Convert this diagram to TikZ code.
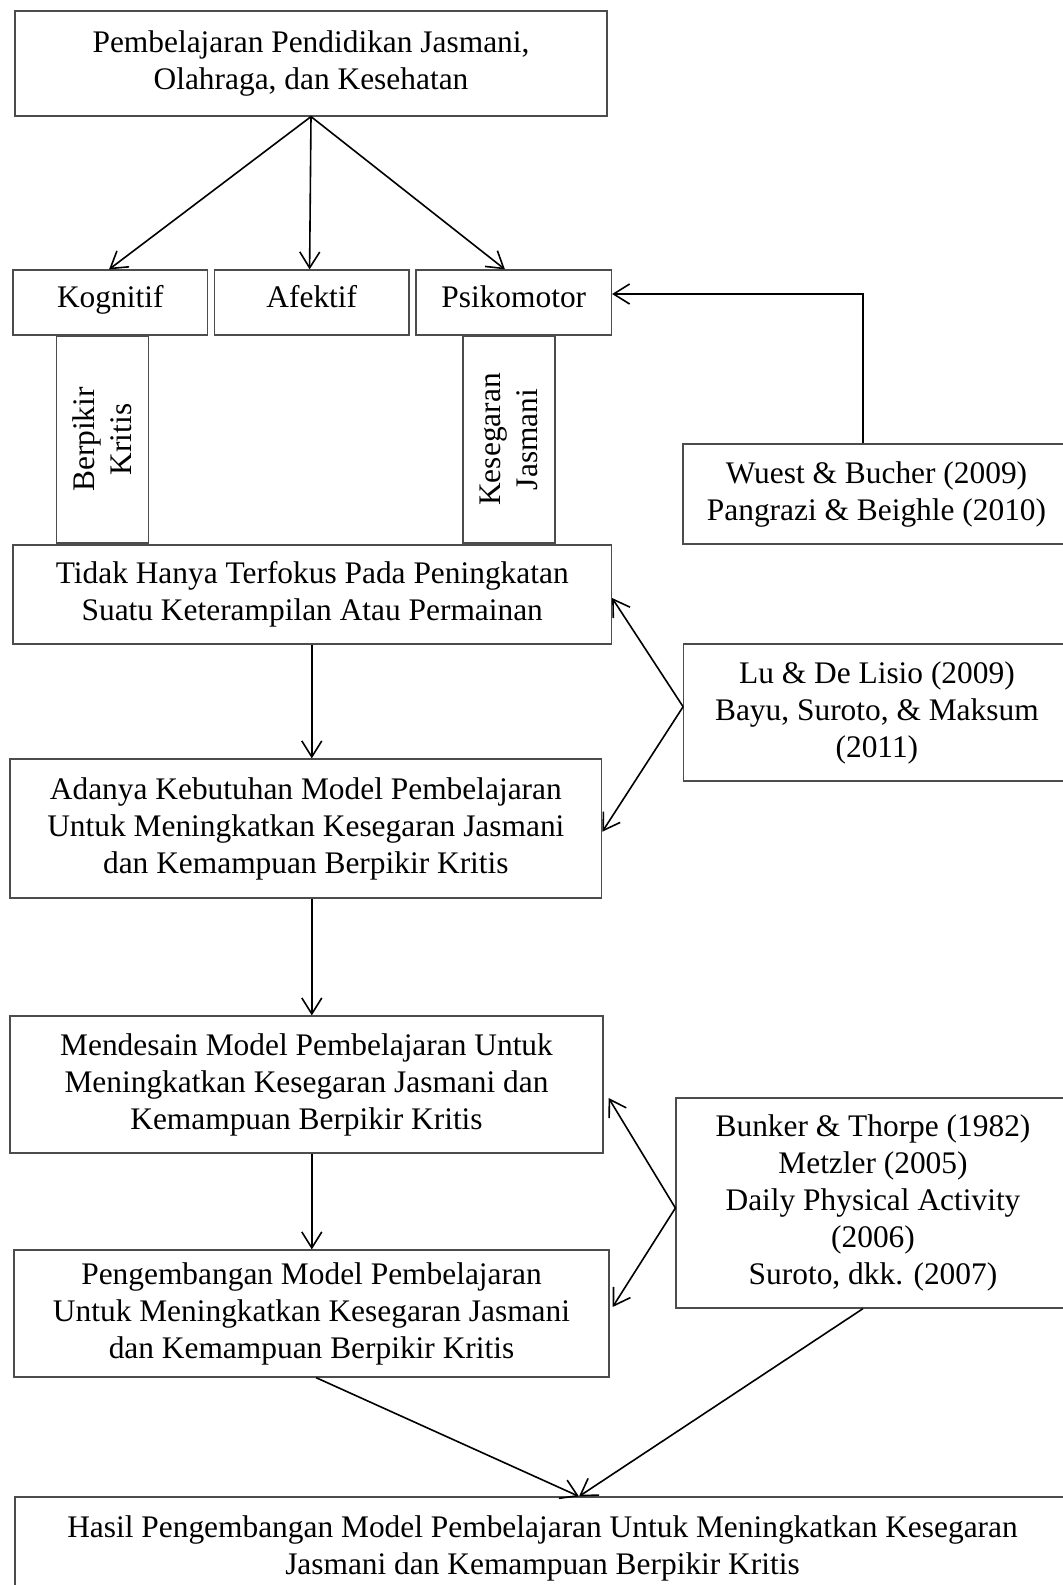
\documentclass[tikz,border=0pt]{standalone}
\usepackage{fontspec}
\setmainfont{Liberation Serif}
\usetikzlibrary{arrows.meta,calc}
\begin{document}
\begin{tikzpicture}[x=0.5pt,y=-0.5pt,
  bx/.style={draw=black!70, line width=0.6pt, inner sep=0pt, align=center,
    font=\fontsize{15.7}{18.5}\selectfont},
  oneline/.style={text height=0.68em, text depth=0.22em},
  link/.style={draw=black, line width=0.8pt},
  arr/.style={link, -{Straight Barb[length=8pt,width=10pt,line width=0.8pt]}}]
\useasboundingbox (0,0) rectangle (1062,1585);

% upper chain
\node[bx, minimum width=296pt, minimum height=52.5pt] (top) at (311,63.5)
  {Pembelajaran Pendidikan Jasmani,\\Olahraga, dan Kesehatan};
\node[bx, oneline, minimum width=97.25pt, minimum height=32.5pt] (kog) at (110.25,302.5) {Kognitif};
\node[bx, oneline, minimum width=97.2pt, minimum height=32.5pt] (afe) at (311.8,302.5) {Afektif};
\node[bx, oneline, minimum width=97.75pt, minimum height=32.5pt] (psi) at (513.75,302.5) {Psikomotor};

\node[bx, rotate=90, minimum width=103.5pt, minimum height=46pt] (bk) at (102.5,439.5) {Berpikir\\Kritis};
\node[bx, rotate=90, minimum width=103.5pt, minimum height=46pt] (kj) at (509,439.5) {Kesegaran\\Jasmani};

\node[bx, minimum width=299.25pt, minimum height=49.5pt] (tidak) at (312.25,594.5)
  {Tidak Hanya Terfokus Pada Peningkatan\\Suatu Keterampilan Atau Permainan};
\node[bx, minimum width=295.85pt, minimum height=69.5pt] (adanya) at (305.85,828.5)
  {Adanya Kebutuhan Model Pembelajaran\\Untuk Meningkatkan Kesegaran Jasmani\\dan Kemampuan Berpikir Kritis};
\node[bx, minimum width=296.5pt, minimum height=68.5pt] (desain) at (306.5,1084.5)
  {Mendesain Model Pembelajaran Untuk\\Meningkatkan Kesegaran Jasmani dan\\Kemampuan Berpikir Kritis};
\node[bx, minimum width=297.5pt, minimum height=63.5pt] (kembang) at (311.5,1313.5)
  {Pengembangan Model Pembelajaran\\Untuk Meningkatkan Kesegaran Jasmani\\dan Kemampuan Berpikir Kritis};
\node[bx, minimum width=527.5pt, minimum height=51pt] (hasil) at (542.5,1548)
  {Hasil Pengembangan Model Pembelajaran Untuk Meningkatkan Kesegaran\\Jasmani dan Kemampuan Berpikir Kritis};

% reference boxes on the right
\node[bx, minimum width=193.5pt, minimum height=50pt] (wuest) at (876.5,494)
  {Wuest \& Bucher (2009)\\Pangrazi \& Beighle (2010)};
\node[bx, minimum width=193.2pt, minimum height=68.5pt] (lu) at (876.9,712.5)
  {Lu \& De Lisio (2009)\\Bayu, Suroto, \& Maksum\\(2011)};
\node[bx, minimum width=197pt, minimum height=105pt] (bunker) at (873,1203)
  {Bunker \& Thorpe (1982)\\Metzler (2005)\\Daily Physical Activity\\(2006)\\Suroto, dkk. (2007)};

% connectors
\draw[arr] (top.south) -- ([xshift=-0.6pt]kog.north);
\draw[arr] (top.south) -- ([xshift=-1.1pt]afe.north);
\draw[arr] (top.south) -- ([xshift=-4.4pt]psi.north);

\draw[arr] ([xshift=-6.9pt]wuest.north) |- ([yshift=4.25pt]psi.east);

\draw[arr] (tidak.south -| afe.south) -- (adanya.north -| afe.south);
\draw[arr] (adanya.south -| afe.south) -- (desain.north -| afe.south);
\draw[arr] (desain.south -| afe.south) -- (kembang.north -| afe.south);

\coordinate (luw) at ([yshift=2.9pt]lu.west);
\draw[arr] (luw) -- ([yshift=-1.75pt]tidak.east);
\draw[arr] (luw) -- ([yshift=-1.6pt]adanya.east);

\coordinate (bw) at ([yshift=-2.5pt]bunker.west);
\draw[arr] (bw) -- ([xshift=2.5pt,yshift=-6.75pt]desain.east);
\draw[arr] (bw) -- ([xshift=1.5pt,yshift=3.25pt]kembang.east);

\coordinate (hin) at ([xshift=18.25pt]hasil.north);
\draw[arr] ([xshift=2.25pt]kembang.south) -- (hin);
\draw[arr] ([xshift=-5pt]bunker.south) -- (hin);
\end{tikzpicture}
\end{document}
